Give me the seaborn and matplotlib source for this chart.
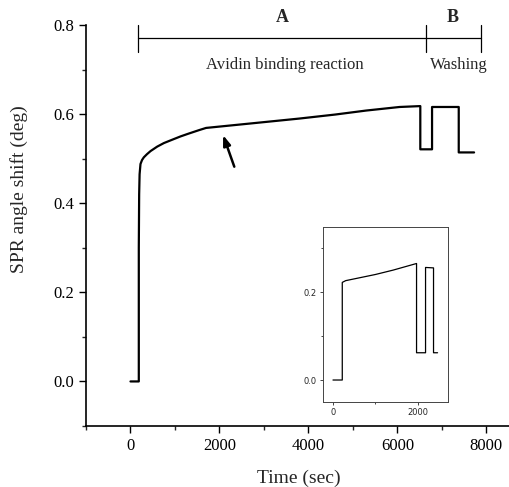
import matplotlib
matplotlib.use("Agg")
import matplotlib.pyplot as plt
import pandas as pd
import seaborn as sns
from matplotlib.ticker import MultipleLocator

# main SPR trace (time in sec, angle shift in deg)
main_time = [0, 187, 187, 195, 205, 225, 260, 300, 370, 451, 600, 751, 950,
             1127, 1300, 1540, 1700, 2700, 3795, 4600, 5299, 6050, 6516, 6516,
             6780, 6780, 7380, 7380, 7725]
main_shift = [0.0, 0.0, 0.30, 0.42, 0.465, 0.488, 0.497, 0.503, 0.510, 0.517,
              0.527, 0.535, 0.543, 0.550, 0.556, 0.564, 0.569, 0.579, 0.590,
              0.599, 0.608, 0.616, 0.618, 0.521, 0.521, 0.616, 0.616, 0.514,
              0.514]

# inset trace
inset_time = [0, 219, 219, 300, 600, 1000, 1419, 1969, 1969, 2181, 2181,
              2369, 2369, 2464]
inset_shift = [0.0, 0.0, 0.222, 0.226, 0.232, 0.240, 0.250, 0.265, 0.062,
               0.062, 0.256, 0.255, 0.062, 0.062]

# phase brackets
phase_edges = [180, 6636, 7883]
phase_letters = ["A", "B"]
phase_names = ["Avidin binding reaction", "Washing"]
arrow_tip = (2082, 0.553)
arrow_tail = (2334, 0.482)

sns.set_theme(style="ticks")
plt.rcParams["font.family"] = ["Liberation Serif", "DejaVu Serif"]
plt.rcParams["xtick.direction"] = "out"
plt.rcParams["ytick.direction"] = "out"

main_df = pd.DataFrame({"t": main_time, "s": main_shift})
inset_df = pd.DataFrame({"t": inset_time, "s": inset_shift})

fig = plt.figure(figsize=(5.09, 4.87), dpi=100)
ax = fig.add_axes([86 / 509, 61 / 487, 423 / 509, 401 / 487])

sns.lineplot(data=main_df, x="t", y="s", ax=ax, estimator=None, sort=False,
             color="black", linewidth=1.6)

ax.set_xlim(-1000, 8510)
ax.set_ylim(-0.1, 0.8)
ax.xaxis.set_major_locator(MultipleLocator(2000))
ax.xaxis.set_minor_locator(MultipleLocator(1000))
ax.yaxis.set_minor_locator(MultipleLocator(0.1))
ax.set_yticks([0.0, 0.2, 0.4, 0.6, 0.8])
ax.set_yticklabels(["0.0", "0.2", "0.4", "0.6", "0.8"])
ax.tick_params(which="major", length=5, width=1, labelsize=12, colors="black")
ax.tick_params(which="minor", length=3, width=1)
for side in ["top", "right"]:
    ax.spines[side].set_visible(False)
for side in ["left", "bottom"]:
    ax.spines[side].set_linewidth(1.2)
    ax.spines[side].set_color("black")

ax.set_xlabel("Time (sec)", fontsize=14)
ax.set_ylabel("SPR angle shift (deg)", fontsize=14)
ax.yaxis.set_label_coords(-0.136, 0.59)
ax.xaxis.set_label_coords(0.502, -0.11)

# bracket line
ax.plot([phase_edges[0], phase_edges[-1]], [0.77, 0.77], color="black", lw=0.9,
        clip_on=False)
for xe in phase_edges:
    ax.plot([xe, xe], [0.74, 0.80], color="black", lw=0.9, clip_on=False)
letter_x = [3420, 7250]
name_x = [3480, 7380]
for letter, name, lx, nx in zip(phase_letters, phase_names, letter_x, name_x):
    ax.text(lx, 0.817, letter, ha="center", va="center",
            fontsize=13, fontweight="bold", clip_on=False)
    ax.text(nx, 0.71, name, ha="center", va="center", fontsize=12)

ax.annotate("", xy=arrow_tip, xytext=arrow_tail,
            arrowprops=dict(arrowstyle="-|>,head_length=0.5,head_width=0.18",
                            color="black", lw=1.8, shrinkA=0, shrinkB=0))

# inset
axi = fig.add_axes([323 / 509, 85 / 487, 125 / 509, 175 / 487])
sns.lineplot(data=inset_df, x="t", y="s", ax=axi, estimator=None, sort=False,
             color="black", linewidth=0.9)
axi.set_xlim(-235, 2710)
axi.set_ylim(-0.05, 0.348)
axi.set_xticks([0, 2000])
axi.set_yticks([0.0, 0.2])
axi.set_yticklabels(["0.0", "0.2"])
axi.xaxis.set_minor_locator(MultipleLocator(1000))
axi.yaxis.set_minor_locator(MultipleLocator(0.1))
axi.set_xlabel("")
axi.set_ylabel("")
axi.tick_params(which="major", length=2.5, width=0.6, labelsize=6, pad=2)
axi.tick_params(which="minor", length=1.5, width=0.6)
for lab in axi.get_xticklabels() + axi.get_yticklabels():
    lab.set_family("DejaVu Sans")
for side in axi.spines.values():
    side.set_linewidth(0.7)
    side.set_color("#444444")

fig.savefig("out.png", dpi=100)
